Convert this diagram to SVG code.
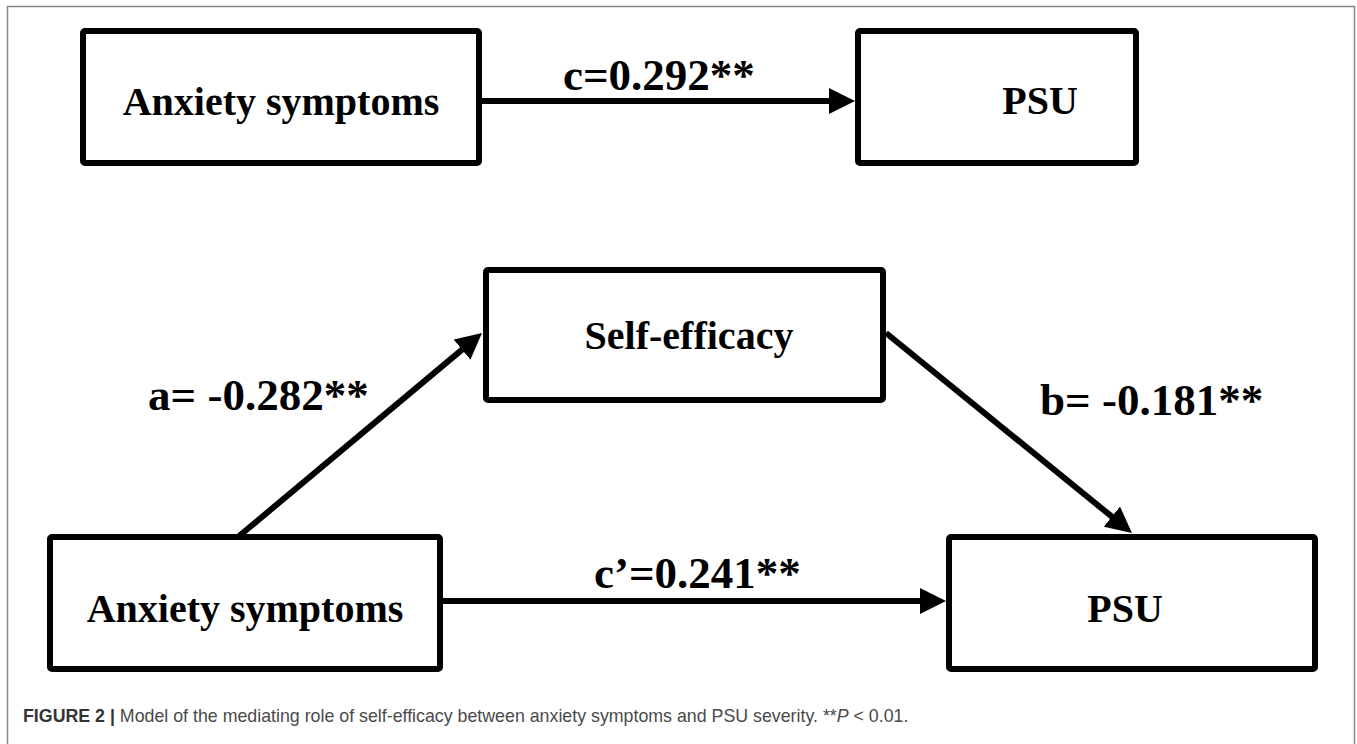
<svg xmlns="http://www.w3.org/2000/svg" width="1357" height="744" viewBox="0 0 1357 744">
<style>
.box{fill:#fff;stroke:#000;stroke-width:6;stroke-linejoin:round}
.node{font-family:"Liberation Serif","Times New Roman",serif;font-weight:bold;font-size:40px;fill:#000}
.lab{font-family:"Liberation Serif","Times New Roman",serif;font-weight:bold;font-size:45px;fill:#000}
.edge{stroke:#000;stroke-width:6;fill:none}
.cap{font-family:"Liberation Sans",Arial,sans-serif;font-size:17.8px;fill:#4a4a4a}
</style>
<defs>
<marker id="ah" markerUnits="userSpaceOnUse" markerWidth="26" markerHeight="26" refX="16" refY="13" orient="auto">
<path d="M0,0 L26,13 L0,26 Z" fill="#000"/>
</marker>
</defs>
<rect width="1357" height="744" fill="#fff"/>
<path d="M7.5,744 V6.5 H1354.5 V744" fill="none" stroke="#888" stroke-width="1.5"/>
<g id="connectors">
<line class="edge" x1="479" y1="101" x2="845" y2="101" marker-end="url(#ah)"/>
<line class="edge" x1="238" y1="537" x2="474.3" y2="339.4" marker-end="url(#ah)"/>
<line class="edge" x1="886" y1="333" x2="1124.2" y2="526.7" marker-end="url(#ah)"/>
<line class="edge" x1="440" y1="601" x2="936" y2="601" marker-end="url(#ah)"/>
<text class="lab" x="563" y="90">c=0.292**</text>
<text class="lab" x="148" y="410">a= -0.282**</text>
<text class="lab" x="1040" y="415">b= -0.181**</text>
<text class="lab" x="594" y="588">c’=0.241**</text>
</g>
<g id="anxiety-top">
<rect class="box" x="83" y="31" width="396" height="132" rx="2"/>
<text class="node" x="281" y="115" text-anchor="middle">Anxiety symptoms</text>
</g>
<g id="psu-top">
<rect class="box" x="858" y="31" width="278" height="132" rx="2"/>
<text class="node" x="1040" y="114" text-anchor="middle">PSU</text>
</g>
<g id="self-efficacy">
<rect class="box" x="486" y="270" width="397" height="130" rx="2"/>
<text class="node" x="689" y="349" text-anchor="middle">Self-efficacy</text>
</g>
<g id="anxiety-bottom">
<rect class="box" x="50" y="537" width="390" height="132" rx="2"/>
<text class="node" x="245" y="622" text-anchor="middle">Anxiety symptoms</text>
</g>
<g id="psu-bottom">
<rect class="box" x="949" y="537" width="366" height="132" rx="2"/>
<text class="node" x="1125" y="622" text-anchor="middle">PSU</text>
</g>
<text class="cap" x="23" y="722"><tspan font-weight="bold" fill="#333">FIGURE 2 |</tspan> Model of the mediating role of self-efficacy between anxiety symptoms and PSU severity. **<tspan font-style="italic">P</tspan> &lt; 0.01.</text>
</svg>
